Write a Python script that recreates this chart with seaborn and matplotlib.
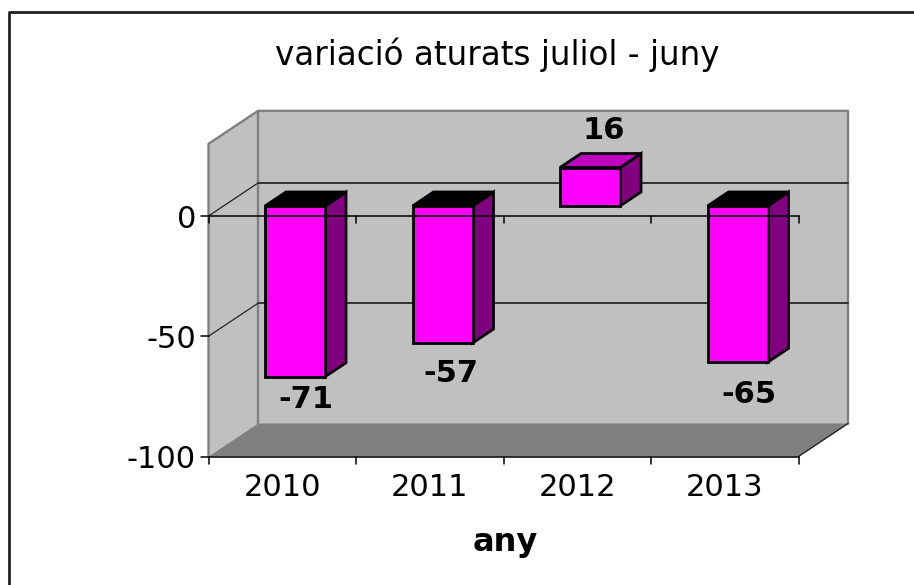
import matplotlib
matplotlib.use("Agg")
import matplotlib.pyplot as plt
from matplotlib.patches import Polygon, Rectangle
from matplotlib.lines import Line2D
from matplotlib.transforms import Affine2D
import pandas as pd
import seaborn as sns

years = ["2010", "2011", "2012", "2013"]
values = [-71, -57, 16, -65]
y_ticks = [0, -50, -100]
title = "variació aturats juliol - juny"
x_title = "any"
label_dx = [24, 21, 27, 24]
label_dy = [-13, -20, 47, -22]

W, H = 914, 585
sns.set_theme(style="white")
plt.rcParams["font.family"] = ["DejaVu Sans"]
fig = plt.figure(figsize=(W / 100, H / 100), dpi=100)

# plot frame, in pixels of the picture
L, R, Y0, YB = 208.5, 798.5, 216.0, 456.5
ax = fig.add_axes([L / W, 1 - YB / H, (R - L) / W, (YB - Y0) / H])
ax.set_xlim(-0.5, 3.5)
ax.set_ylim(-100, 0)
px_x = (R - L) / 4
px_y = (YB - Y0) / 100

# depth of the box and of the bars, in data units
DX, DY = 49.5 / px_x, 33 / px_y
BAR_W = 60 / px_x
OFF_X, OFF_Y = 12.75, 10             # front face shift from the axis plane, px
BX, BY = OFF_X / px_x, OFF_Y / px_y
SX, SY = 21 / px_x, 14 / px_y        # bar depth
TOP = 30

GREY = "#C0C0C0"
FLOOR = "#808080"
EDGE = "#808080"


def poly(points, fc, ec="none", lw=0, z=1):
    ax.add_patch(Polygon(points, closed=True, fc=fc, ec=ec, lw=lw, zorder=z,
                         clip_on=False, joinstyle="miter"))


xl, xr = -0.5, 3.5
# walls and floor
poly([(xl + DX, -100 + DY), (xr + DX, -100 + DY), (xr + DX, TOP + DY), (xl + DX, TOP + DY)], GREY, z=0.5)
poly([(xl, -100), (xl + DX, -100 + DY), (xl + DX, TOP + DY), (xl, TOP)], GREY, z=0.5)
poly([(xl, -100), (xr, -100), (xr + DX, -100 + DY), (xl + DX, -100 + DY)], FLOOR, z=0.6)

# box outline
box = [[(xl, -100), (xl, TOP), (xl + DX, TOP + DY), (xr + DX, TOP + DY), (xr + DX, -100 + DY)],
       [(xl + DX, TOP + DY), (xl + DX, -100 + DY)]]
for seg in box:
    ax.plot(*zip(*seg), color=EDGE, lw=1.7, zorder=0.8, clip_on=False, solid_capstyle="projecting")
ax.plot([xr, xr + DX], [-100, -100 + DY], color="#222222", lw=1, zorder=0.8, clip_on=False)

# gridlines on walls
for v in [0, -50]:
    ax.plot([xl, xl + DX], [v, v + DY], color="#222222", lw=0.9, zorder=0.9, clip_on=False)
    ax.plot([xl + DX, xr + DX], [v + DY, v + DY], color="#333333", lw=1.4, zorder=0.9, clip_on=False)

# front faces through seaborn
df = pd.DataFrame({"year": years, "value": values})
sns.barplot(data=df, x="year", y="value", ax=ax, color="#FF00FF", saturation=1,
            width=BAR_W, edgecolor="black", linewidth=2, zorder=3, errorbar=None)
ax.set_xlim(-0.5, 3.5)
ax.set_ylim(-100, 0)
shift = ax.transData + Affine2D().translate(OFF_X, OFF_Y)
for bar in ax.patches:
    if isinstance(bar, Rectangle):
        bar.set_transform(shift)
        bar.set_clip_on(False)
        bar.set_joinstyle("miter")

# side and top faces, and value labels
for i, v in enumerate(values):
    x0 = i - BAR_W / 2 + BX
    x1 = i + BAR_W / 2 + BX
    b = BY
    t = v + BY
    high = max(b, t)
    low = min(b, t)
    poly([(x1, low), (x1 + SX, low + SY), (x1 + SX, high + SY), (x1, high)], "#800080", "black", 2, z=2.5)
    poly([(x0, high), (x1, high), (x1 + SX, high + SY), (x0 + SX, high + SY)],
         "#C000C0" if v > 0 else "black", "black", 2, z=2.5)
    ax.annotate(str(v), (i, v), xytext=(label_dx[i], label_dy[i]), textcoords="offset pixels",
                ha="center", va="center", fontsize=22, fontweight="bold", color="black",
                annotation_clip=False, zorder=5)

# axes
for s in ax.spines.values():
    s.set_visible(False)
ax.patch.set_visible(False)
ax.set_xlabel("")
ax.set_ylabel("")
ax.set_xticks(range(4), years)
ax.set_yticks(y_ticks, [str(t) for t in y_ticks])
ax.tick_params(axis="x", length=0, labelsize=22, pad=12, colors="black")
ax.tick_params(axis="y", length=0, labelsize=22, pad=9, colors="black")

# value axis ticks and both horizontal axis lines
ax.plot([xl - 8 / px_x, xr], [0, 0], color="black", lw=1.1, zorder=4, clip_on=False)
ax.plot([xl - 8 / px_x, xr], [-100, -100], color="black", lw=1.1, zorder=4, clip_on=False)
ax.plot([xl - 8 / px_x, xl], [-50, -50], color="black", lw=1.1, zorder=4, clip_on=False)
for k in range(5):
    ax.plot([xl + k, xl + k], [0, -7 / px_y], color="black", lw=1.1, zorder=4, clip_on=False)
    ax.plot([xl + k, xl + k], [-100, -100 - 7 / px_y], color="black", lw=1.1, zorder=4, clip_on=False)

# titles
fig.text(497 / W, 1 - 55 / H, title, ha="center", va="center", fontsize=23.5, color="black")
fig.text(505 / W, 1 - 543 / H, x_title, ha="center", va="center", fontsize=23, fontweight="bold", color="black")

# chart border
fig.add_artist(Line2D([8.5 / W, 8.5 / W, 1], [0, 1 - 12 / H, 1 - 12 / H], color="#222222", lw=2))

fig.savefig("out.png", dpi=100, facecolor="white")
